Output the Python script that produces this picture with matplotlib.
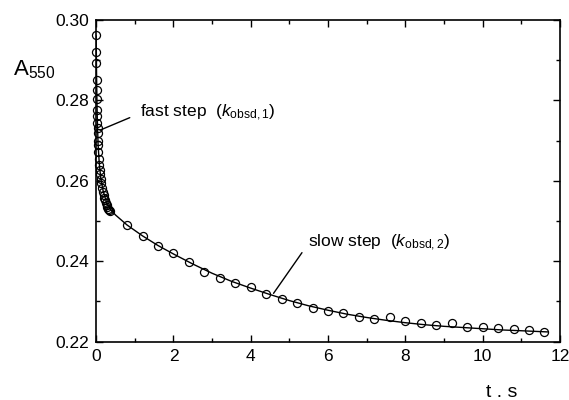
import matplotlib
matplotlib.use("Agg")
import matplotlib.pyplot as plt
from matplotlib.ticker import MultipleLocator

plt.rcParams['font.family'] = ['Liberation Sans', 'DejaVu Sans']
plt.rcParams['mathtext.fontset'] = 'custom'
plt.rcParams['mathtext.rm'] = 'Liberation Sans'
plt.rcParams['mathtext.it'] = 'Liberation Sans:italic'

# measured absorbance, fast phase (dense sampling)
t_fast = [0.000, 0.004, 0.008, 0.012, 0.016, 0.020, 0.024, 0.028, 0.032, 0.036,
          0.040, 0.045, 0.050, 0.060, 0.070, 0.080, 0.090, 0.100, 0.115, 0.130,
          0.150, 0.170, 0.190, 0.210, 0.230, 0.250, 0.270, 0.290, 0.310, 0.340, 0.370]
a_fast = [0.2963, 0.2920, 0.2894, 0.2851, 0.2826, 0.2803, 0.2776, 0.2761, 0.2743, 0.2731,
          0.2718, 0.2700, 0.2688, 0.2672, 0.2655, 0.2640, 0.2628, 0.2618, 0.2605, 0.2595,
          0.2583, 0.2573, 0.2565, 0.2558, 0.2552, 0.2546, 0.2541, 0.2536, 0.2531, 0.2527, 0.2525]

# measured absorbance, slow phase
t_slow = [0.8, 1.2, 1.6, 2.0, 2.4, 2.8, 3.2, 3.6, 4.0, 4.4, 4.8, 5.2, 5.6, 6.0,
          6.4, 6.8, 7.2, 7.6, 8.0, 8.4, 8.8, 9.2, 9.6, 10.0, 10.4, 10.8, 11.2, 11.6]
a_slow = [0.2490, 0.2463, 0.2439, 0.2420, 0.2397, 0.2374, 0.2358, 0.2345, 0.2337,
          0.2319, 0.2306, 0.2295, 0.2284, 0.2276, 0.2271, 0.2262, 0.2256, 0.2260,
          0.2251, 0.2247, 0.2241, 0.2246, 0.2237, 0.2237, 0.2234, 0.2231, 0.2230, 0.2223]

# fitted curve
t_fit = [0, 0.01, 0.02, 0.03, 0.05, 0.08, 0.12, 0.18, 0.25, 0.35, 0.5, 0.8, 1.2, 1.6,
         2.0, 2.5, 3.0, 3.5, 4.0, 4.5, 5.0, 5.5, 6.0, 6.5, 7.0, 7.5, 8.0, 8.5, 9.0,
         9.5, 10.0, 10.5, 11.0, 11.7]
a_fit = [0.2960, 0.2868, 0.2800, 0.2752, 0.2690, 0.2644, 0.2606, 0.2575, 0.2552, 0.2531,
         0.2515, 0.2490, 0.2463, 0.2439, 0.2418, 0.2393, 0.2370, 0.2350, 0.2333, 0.2317,
         0.2302, 0.2289, 0.2278, 0.2268, 0.2260, 0.2253, 0.2247, 0.2242, 0.2238, 0.2235,
         0.2232, 0.2229, 0.2227, 0.2224]

fig = plt.figure(figsize=(5.69, 4.0), dpi=100)
ax = fig.add_axes([0.169, 0.146, 0.815, 0.804])

ax.plot(t_fit, a_fit, color='black', lw=1.0, zorder=2)
ax.plot(t_fast + t_slow, a_fast + a_slow, 'o', ms=5.8, mfc='none', mec='black',
        mew=0.9, zorder=3, clip_on=False)

ax.set_xlim(0, 12)
ax.set_ylim(0.22, 0.30)
ax.xaxis.set_major_locator(MultipleLocator(2))
ax.xaxis.set_minor_locator(MultipleLocator(1))
ax.yaxis.set_major_locator(MultipleLocator(0.02))
ax.yaxis.set_minor_locator(MultipleLocator(0.01))
ax.xaxis.set_major_formatter(plt.FuncFormatter(lambda v, p: f"{v:.0f}"))
ax.yaxis.set_major_formatter(plt.FuncFormatter(lambda v, p: f"{v:.2f}"))
ax.tick_params(which='both', direction='in', top=True, right=True, labelsize=12.5, width=1)
ax.tick_params(which='major', length=5, pad=5)
ax.tick_params(which='minor', length=3)
for s in ax.spines.values():
    s.set_linewidth(1.2)

# annotations with leader lines
ax.annotate(r'fast step  ($k_{\mathrm{obsd,1}}$)', xy=(0.1, 0.2726), xytext=(1.14, 0.2768),
            fontsize=12.5, va='center', ha='left',
            arrowprops=dict(arrowstyle='-', color='black', lw=1, shrinkA=6, shrinkB=0,
                            relpos=(0, 0.5)))
ax.annotate(r'slow step  ($k_{\mathrm{obsd,2}}$)', xy=(4.59, 0.2320), xytext=(5.48, 0.2445),
            fontsize=12.5, va='center', ha='left',
            arrowprops=dict(arrowstyle='-', color='black', lw=1, shrinkA=4, shrinkB=0,
                            relpos=(0, 0.45)))

fig.text(0.022, 0.825, r'A$_{\mathrm{550}}$', fontsize=16, ha='left', va='center')
fig.text(0.854, 0.018, 't . s', fontsize=14, ha='left', va='center')

fig.savefig('out.png', dpi=100)
